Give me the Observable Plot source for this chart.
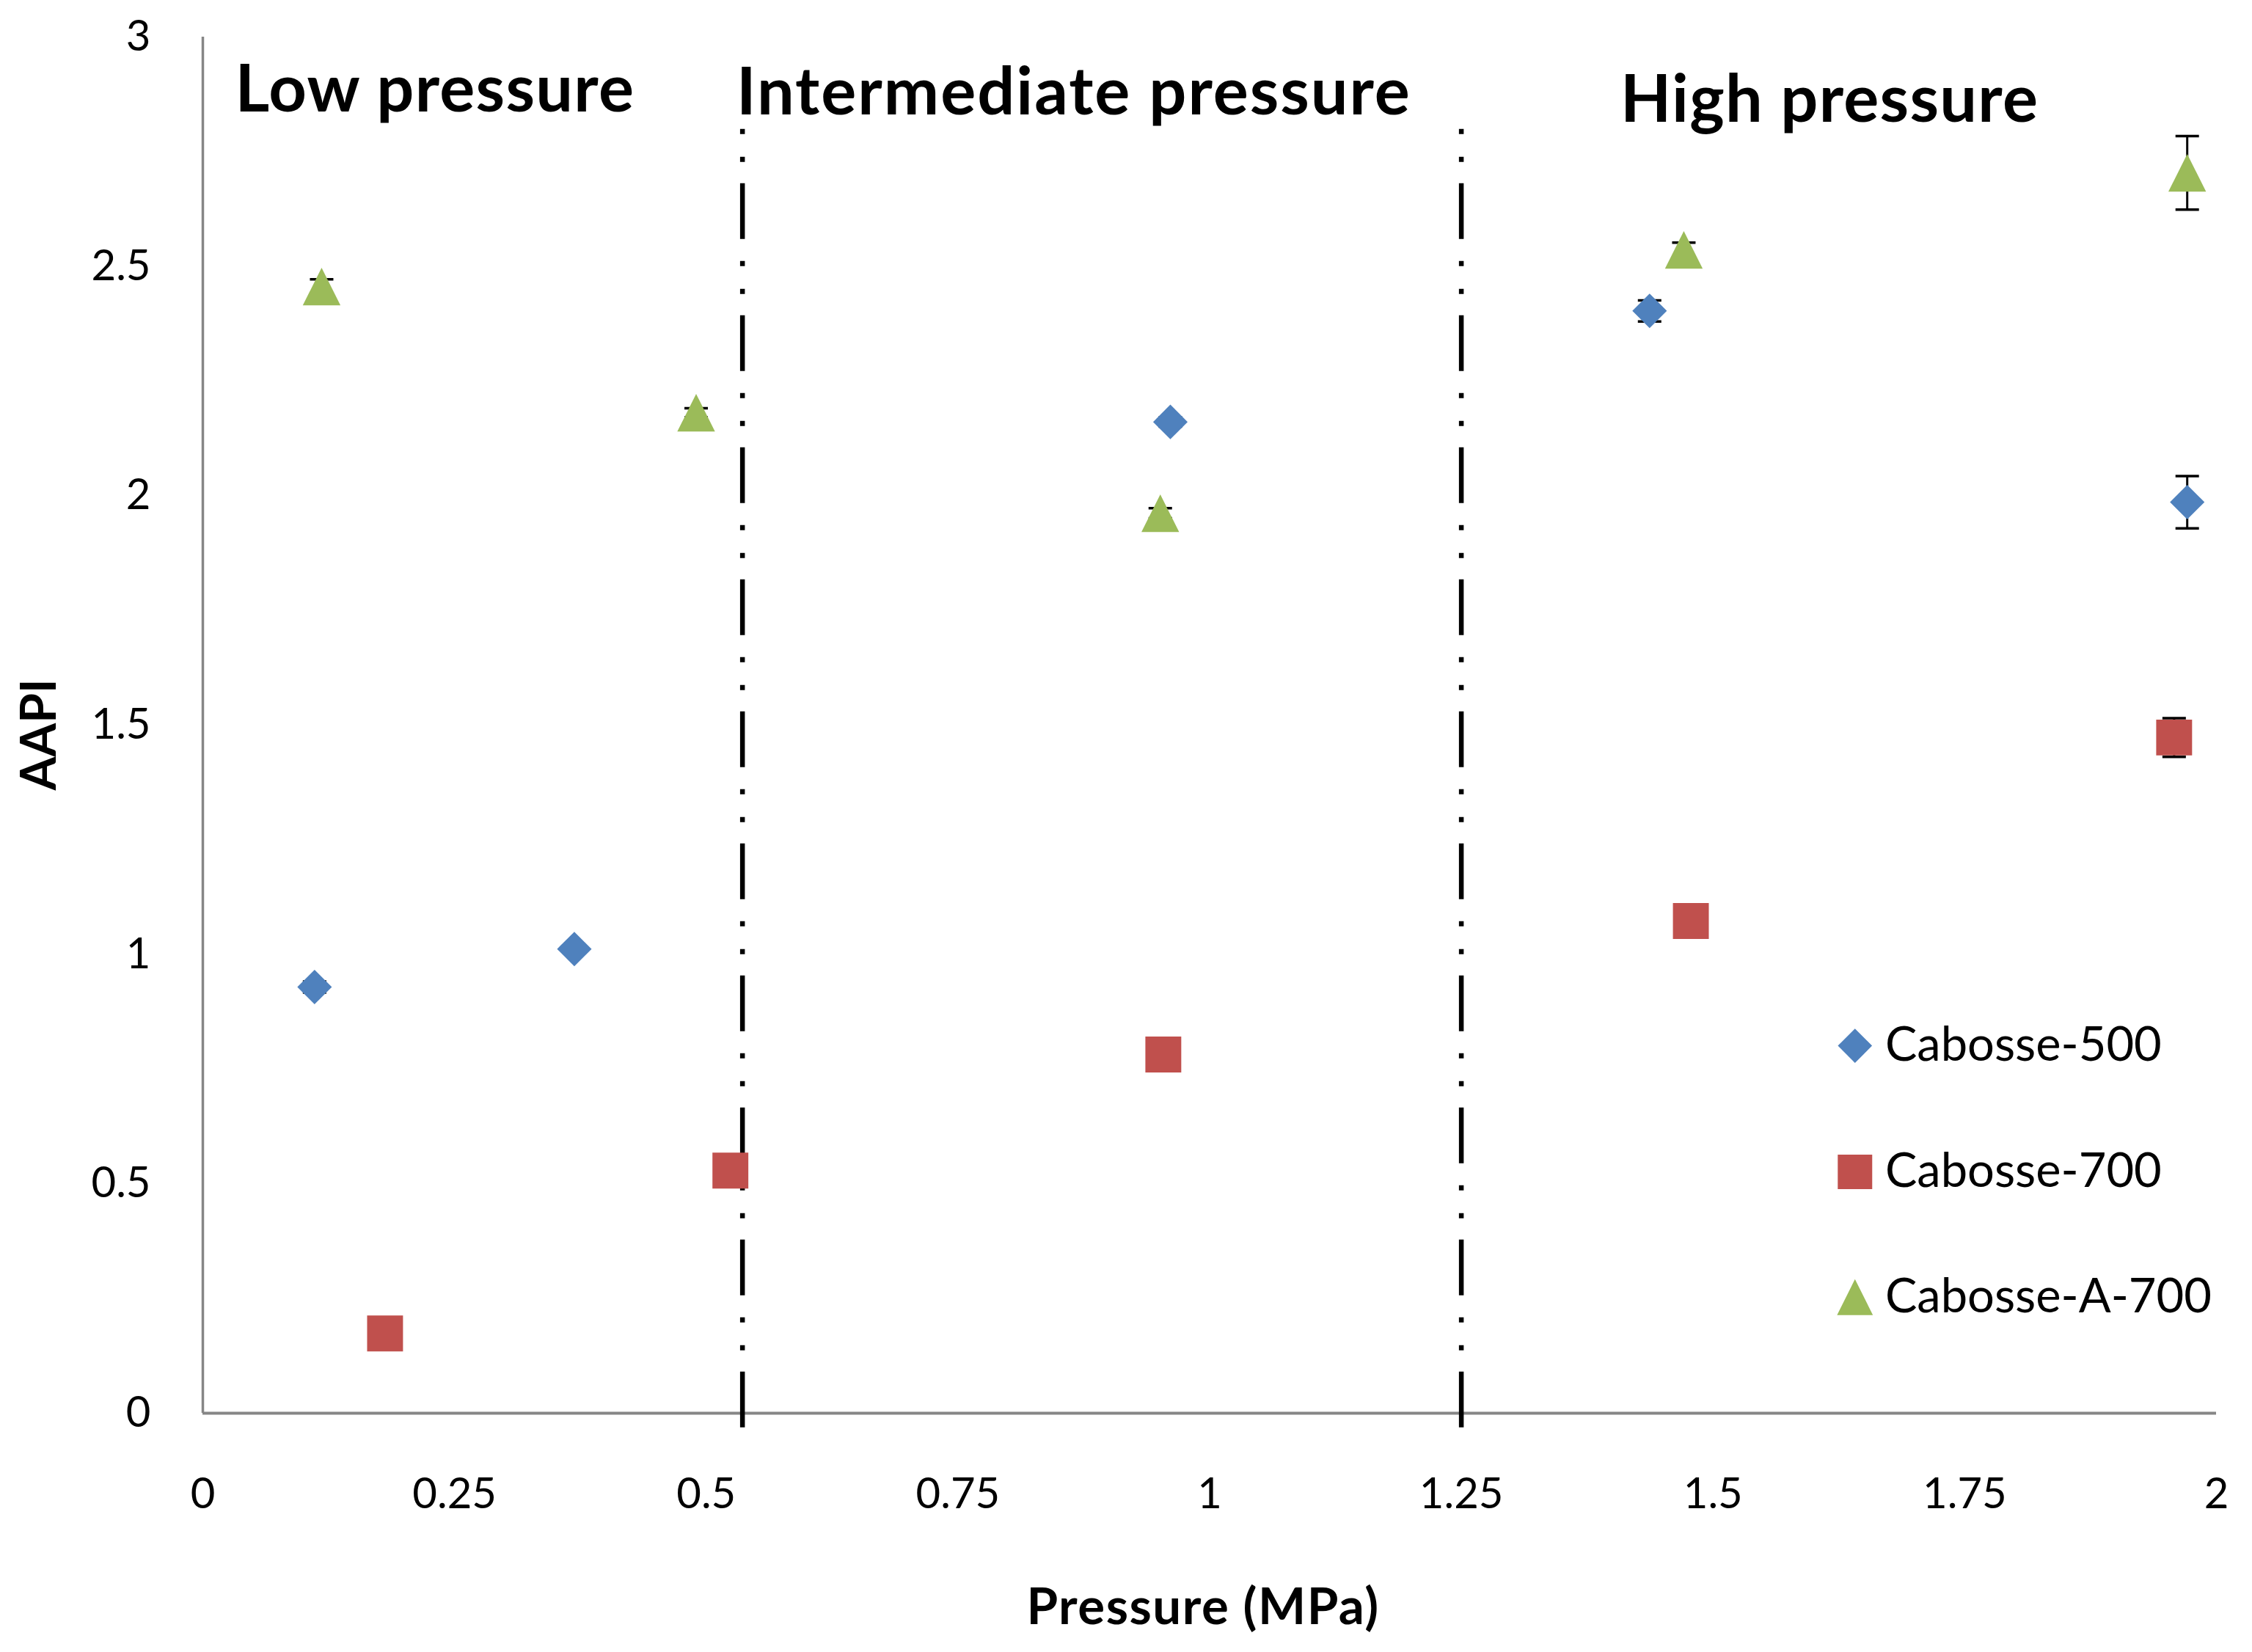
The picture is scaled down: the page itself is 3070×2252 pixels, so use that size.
<!DOCTYPE html>
<html>
<head>
<meta charset="utf-8">
<script src="https://cdn.jsdelivr.net/npm/d3@7"></script>
<script src="https://cdn.jsdelivr.net/npm/@observablehq/plot@0.6"></script>
<style>
  html, body { margin: 0; padding: 0; background: #fff; }
</style>
</head>
<body>
<div id="chart"></div>
<script>
// ---- Data ----
const series = ["Cabosse-500", "Cabosse-700", "Cabosse-A-700"];

const pressure500  = [0.111, 0.369, 0.961, 1.437, 1.971];
const aapi500      = [0.929, 1.012, 2.161, 2.403, 1.986];
const err500       = [0.012, 0.005, 0.010, 0.023, 0.057];

const pressure700  = [0.181, 0.524, 0.954, 1.478, 1.958];
const aapi700      = [0.174, 0.529, 0.782, 1.073, 1.473];
const err700       = [0.005, 0.005, 0.005, 0.005, 0.042];

const pressureA700 = [0.118, 0.490, 0.951, 1.471, 1.971];
const aapiA700     = [2.456, 2.181, 1.962, 2.536, 2.704];
const errA700      = [0.016, 0.010, 0.011, 0.016, 0.080];

const xTicks = [0, 0.25, 0.5, 0.75, 1, 1.25, 1.5, 1.75, 2];
const yTicks = [0, 0.5, 1, 1.5, 2, 2.5, 3];

// Pressure-regime boundaries (MPa) and their vertical extent (AAPI units)
const boundaryX = [0.536, 1.25];
const boundaryTop = 2.799;
const boundaryBottom = -0.034;

// Region annotations, anchored in data coordinates
const regionNames = ["Low pressure", "Intermediate pressure", "High pressure"];
const regionX = [0.032, 0.530, 1.408];
const regionY = [2.837, 2.831, 2.815];

// Legend anchors in data coordinates
const legendSymbolX = 1.641;
const legendTextX = 1.671;
const legendY = [0.801, 0.526, 0.253];

// ---- Build rows ----
const seriesData = [
  [pressure500, aapi500, err500],
  [pressure700, aapi700, err700],
  [pressureA700, aapiA700, errA700]
];
const rows = [];
series.forEach((s, k) => {
  const [px, py, pe] = seriesData[k];
  px.forEach((x, i) => rows.push({series: s, x, y: py[i], e: pe[i]}));
});

// ---- Symbols ----
const triangle = {
  draw(ctx, size) {
    const s = Math.sqrt(2 * size);
    ctx.moveTo(0, -s / 2);
    ctx.lineTo(s / 2, s / 2);
    ctx.lineTo(-s / 2, s / 2);
    ctx.closePath();
  }
};
const capSymbol = {
  draw(ctx) { ctx.moveTo(-16, 0); ctx.lineTo(16, 0); }
};
const symbolFor = [d3.symbolDiamond2, d3.symbolSquare, triangle];
const radiusFor = [21.2, 27.6, 20.5];
const legendRadiusFor = [21, 26.5, 19.5];
const colorFor = ["#4F81BD", "#C0504D", "#9BBB59"];

const markerMarks = series.map((s, k) =>
  Plot.dot(rows.filter(d => d.series === s), {
    x: "x", y: "y", symbol: symbolFor[k], r: radiusFor[k], fill: colorFor[k], stroke: "none"
  })
);
const legendMarks = series.map((s, k) =>
  Plot.dot([s], {
    x: () => legendSymbolX, y: () => legendY[k], symbol: symbolFor[k], r: legendRadiusFor[k], fill: colorFor[k], stroke: "none"
  })
);

const chart = Plot.plot({
  width: 3070,
  height: 2252,
  marginLeft: 276,
  marginRight: 49,
  marginTop: 50,
  marginBottom: 326,
  x: {domain: [0, 2]},
  y: {domain: [0, 3]},
  style: {fontFamily: "Lato, 'Open Sans', sans-serif", fontSize: "58px", color: "#000", background: "#fff"},
  marks: [
    Plot.axisX(xTicks, {tickSize: 0, tickPadding: 88, tickFormat: d => String(d), label: null, fontSize: 58}),
    Plot.axisY(yTicks, {tickSize: 0, tickPadding: 71, tickFormat: d => String(d), label: null, fontSize: 58}),
    // axis lines
    Plot.ruleY([0], {x1: 0, x2: 2, stroke: "#868686", strokeWidth: 4}),
    Plot.ruleX([0], {y1: 0, y2: 3, stroke: "#868686", strokeWidth: 3.5}),
    // regime boundaries (dash-dot-dot)
    Plot.ruleX(boundaryX, {y1: boundaryTop, y2: boundaryBottom, stroke: "#000", strokeWidth: 6.5, strokeDasharray: "7,31,7,29,76,30"}),
    // error bars
    Plot.ruleX(rows, {x: "x", y1: d => d.y - d.e, y2: d => d.y + d.e, stroke: "#000", strokeWidth: 3}),
    Plot.dot(rows, {x: "x", y: d => d.y - d.e, symbol: capSymbol, stroke: "#000", strokeWidth: 3.5, fill: "none"}),
    Plot.dot(rows, {x: "x", y: d => d.y + d.e, symbol: capSymbol, stroke: "#000", strokeWidth: 3.5, fill: "none"}),
    // markers
    ...markerMarks,
    // region labels
    Plot.text(regionNames, {
      x: (d, i) => regionX[i], y: (d, i) => regionY[i], text: d => d,
      textAnchor: "start", lineAnchor: "bottom", fontSize: 90, fontWeight: "bold", fill: "#000"
    }),
    // axis titles
    Plot.text(["Pressure (MPa)"], {
      text: d => d, frameAnchor: "bottom", dx: -9, dy: 287, lineAnchor: "bottom",
      fontSize: 69, fontWeight: "bold", fill: "#000"
    }),
    Plot.text(["AAPI"], {
      text: d => d, frameAnchor: "left", rotate: -90, dx: -222, dy: 13, lineAnchor: "middle",
      textAnchor: "middle", fontSize: 66, fontWeight: "bold", fill: "#000"
    }),
    // legend
    ...legendMarks,
    Plot.text(series, {
      x: () => legendTextX, y: (d, i) => legendY[i], text: d => d,
      textAnchor: "start", lineAnchor: "middle", fontSize: 65, fill: "#000"
    })
  ]
});
// letter-spacing for the region labels and axis title (Calibri-like width)
chart.querySelectorAll("text").forEach(t => {
  const s = t.textContent;
  if (s === "Intermediate pressure") t.setAttribute("letter-spacing", "2");
  else if (s.endsWith("pressure")) t.setAttribute("letter-spacing", "1.3");
  if (s === "Pressure (MPa)") t.setAttribute("letter-spacing", "1.5");
});
document.getElementById("chart").appendChild(chart);
</script>
</body>
</html>
